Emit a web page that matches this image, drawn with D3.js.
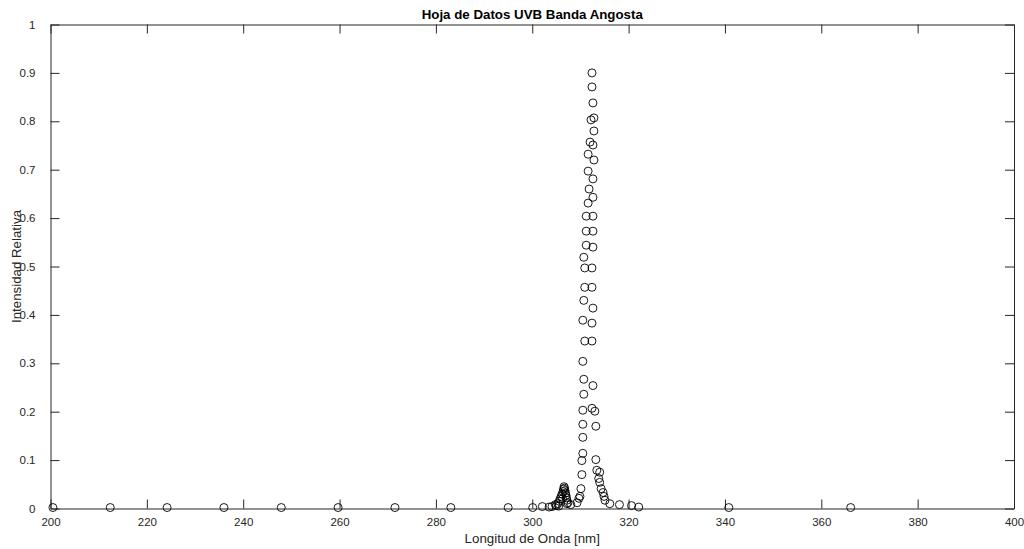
<!DOCTYPE html>
<html>
<head>
<meta charset="utf-8">
<script src="https://d3js.org/d3.v7.min.js"></script>
<style>
  html, body { margin: 0; padding: 0; background: #fff; }
  svg { display: block; }
  text { font-family: "Liberation Sans", Arial, Helvetica, sans-serif; fill: #262626; }
</style>
</head>
<body>
<svg id="chart" width="1024" height="549"></svg>
<script>
// Wavelength (nm) of each measured sample
const wavelength = [
  200.5, 212.4, 224.2, 236.0, 247.9, 259.7, 271.5, 283.1, 295.0, 300.1,
  302.1, 303.5, 304.1, 304.8,
  305.0, 305.3, 305.5, 305.6, 305.8, 306.0, 306.2, 306.3, 306.4, 306.5,
  306.6, 306.7, 306.8, 306.9, 307.0, 307.1, 307.2, 307.4,
  307.2, 308.0, 309.3, 309.7, 309.9, 310.1, 310.3, 310.3, 310.5, 310.5,
  310.5, 310.5, 310.5, 310.5, 310.7, 310.7, 310.7, 310.7, 310.9, 310.9,
  310.9, 311.2, 311.2, 311.2, 311.6, 311.6, 311.6, 311.8, 312.0, 312.2,
  312.4, 312.4, 312.4, 312.4, 312.4, 312.4, 312.4, 312.6, 312.6, 312.6,
  312.6, 312.6, 312.6, 312.6, 312.6, 312.6, 312.8, 312.8, 312.8, 313.0,
  313.2, 313.2, 313.4, 313.8, 314.0, 314.0, 314.3, 314.7, 314.9, 315.1,
  316.1, 318.1, 320.6, 322.1, 340.8, 366.1
];
// Relative intensity of each sample
const intensity = [
  0.002, 0.002, 0.002, 0.002, 0.002, 0.002, 0.002, 0.002, 0.002, 0.002,
  0.004, 0.003, 0.004, 0.008,
  0.006, 0.010, 0.005, 0.015, 0.020, 0.025, 0.030, 0.020, 0.035, 0.040,
  0.045, 0.042, 0.037, 0.032, 0.027, 0.022, 0.017, 0.012,
  0.010, 0.008, 0.012, 0.021, 0.025, 0.041, 0.070, 0.099, 0.114, 0.147,
  0.174, 0.203, 0.304, 0.389, 0.236, 0.267, 0.430, 0.519, 0.346, 0.457,
  0.497, 0.544, 0.573, 0.604, 0.631, 0.697, 0.732, 0.660, 0.757, 0.803,
  0.207, 0.346, 0.383, 0.457, 0.497, 0.871, 0.900, 0.254, 0.414, 0.540,
  0.573, 0.604, 0.643, 0.681, 0.751, 0.838, 0.720, 0.780, 0.807, 0.201,
  0.170, 0.101, 0.079, 0.062, 0.075, 0.054, 0.041, 0.033, 0.025, 0.017,
  0.010, 0.008, 0.006, 0.003, 0.002, 0.002
];

const xTicks = [200, 220, 240, 260, 280, 300, 320, 340, 360, 380, 400];
const yTicks = [0, 0.1, 0.2, 0.3, 0.4, 0.5, 0.6, 0.7, 0.8, 0.9, 1];

const titleText = "Hoja de Datos UVB Banda Angosta";
const xLabelText = "Longitud de Onda [nm]";
const yLabelText = "Intensidad Relativa";

(function drawChart() {
  const svg = d3.select("#chart");
  const plotL = 50.5, plotR = 1014, plotT = 24.5, plotB = 508.5;
  const axisColor = "#262626";
  const tickLen = 9;

  const x = d3.scaleLinear().domain([200, 400]).range([plotL, plotR]);
  const y = d3.scaleLinear().domain([0, 1]).range([plotB, plotT]);

  const fmt = d => (d === 0 || d === 1) ? String(d) : d3.format(".1f")(d);

  // Bottom axis with inward ticks
  const gx = svg.append("g").attr("transform", `translate(0,${plotB})`)
    .call(d3.axisBottom(x).tickValues(xTicks).tickSizeInner(-tickLen).tickSizeOuter(0).tickPadding(9));
  // Top axis (ticks only)
  const gxt = svg.append("g").attr("transform", `translate(0,${plotT})`)
    .call(d3.axisTop(x).tickValues(xTicks).tickSizeInner(-tickLen).tickSizeOuter(0).tickFormat(""));
  // Left axis
  const gy = svg.append("g").attr("transform", `translate(${plotL},0)`)
    .call(d3.axisLeft(y).tickValues(yTicks).tickFormat(fmt).tickSizeInner(-tickLen).tickSizeOuter(0).tickPadding(15));
  // Right axis (ticks only)
  const gyr = svg.append("g").attr("transform", `translate(${plotR},0)`)
    .call(d3.axisRight(y).tickValues(yTicks).tickSizeInner(-tickLen).tickSizeOuter(0).tickFormat(""));

  [gx, gxt, gy, gyr].forEach(g => {
    g.selectAll(".domain").attr("stroke", axisColor).attr("stroke-width", 1);
    g.selectAll(".tick line").attr("stroke", axisColor).attr("stroke-width", 1);
    g.selectAll(".tick text").attr("font-size", 11.5).attr("fill", axisColor)
      .style("font-family", '"Liberation Sans", Arial, sans-serif');
  });

  // Data markers: open circles
  const pts = wavelength.map((w, i) => ({ w, v: intensity[i] }));
  svg.append("g").selectAll("circle").data(pts).join("circle")
    .attr("cx", d => x(d.w))
    .attr("cy", d => y(d.v))
    .attr("r", 4)
    .attr("fill", "none")
    .attr("stroke", "#000")
    .attr("stroke-width", 0.9);

  // Title and axis labels
  svg.append("text").attr("x", (plotL + plotR) / 2).attr("y", 19)
    .attr("text-anchor", "middle").attr("font-size", 13.3).attr("font-weight", "bold")
    .style("fill", "#000").text(titleText);
  svg.append("text").attr("x", (plotL + plotR) / 2).attr("y", 543)
    .attr("text-anchor", "middle").attr("font-size", 13.3).text(xLabelText);
  svg.append("text").attr("transform", `translate(21,${(plotT + plotB) / 2}) rotate(-90)`)
    .attr("text-anchor", "middle").attr("font-size", 13.3).text(yLabelText);
})();
</script>
</body>
</html>
